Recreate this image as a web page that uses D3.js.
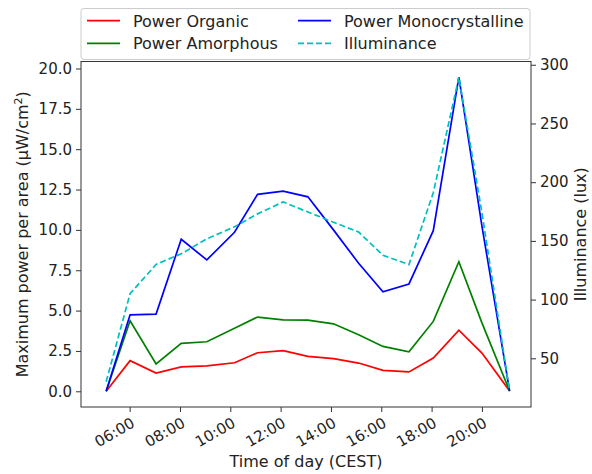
<!DOCTYPE html>
<html>
<head>
<meta charset="utf-8">
<script src="https://cdn.jsdelivr.net/npm/d3@7"></script>
<style>
  body { margin: 0; background: #fff; }
  text { font-family: "DejaVu Sans", sans-serif; fill: #222; }
</style>
</head>
<body>
<svg id="chart" width="592" height="474"></svg>
<script>
// measured values (time of day, CEST)
var times = ['05:04', '06:01', '07:03', '08:03', '09:04', '10:10', '11:05', '12:06', '13:05',
             '14:06', '15:06', '16:04', '17:06', '18:04', '19:05', '20:00', '21:06'];
var powerOrganic = [0, 1.9, 1.13, 1.51, 1.57, 1.77, 2.39, 2.52, 2.16, 2.02, 1.75, 1.3, 1.2, 2.06, 3.79, 2.37, 0.02];
var powerAmorphous = [0, 4.37, 1.69, 2.97, 3.07, 3.9, 4.6, 4.43, 4.41, 4.18, 3.5, 2.78, 2.45, 4.33, 8.03, 4.24, 0.02];
var powerMono = [0, 4.74, 4.78, 9.42, 8.14, 9.85, 12.2, 12.4, 12.05, 10.0, 7.93, 6.16, 6.65, 9.95, 19.46, 10.24, 0.02];
var illuminance = [30, 105, 130, 139, 151.7, 162, 173, 183.2, 174.6, 165.9, 157.5, 137.7, 129.8, 191, 289.4, 174, 21.9];

var leftTicks = [0, 2.5, 5, 7.5, 10, 12.5, 15, 17.5, 20];
var rightTicks = [50, 100, 150, 200, 250, 300];
var timeTicks = ['06:00', '08:00', '10:00', '12:00', '14:00', '16:00', '18:00', '20:00'];
var timeRange = ['04:04', '21:57'];

var series = [
  {name: 'Power Organic', values: powerOrganic, color: '#ff0000'},
  {name: 'Power Amorphous', values: powerAmorphous, color: '#008000'},
  {name: 'Power Monocrystalline', values: powerMono, color: '#0000ff'}
];

var parseTime = d3.timeParse('%H:%M');
var dates = times.map(parseTime);

var margin = {top: 61.5, right: 61, bottom: 67, left: 81};
var width = 592 - margin.left - margin.right;
var height = 474 - margin.top - margin.bottom;

var svg = d3.select('#chart');
var g = svg.append('g').attr('transform', 'translate(' + margin.left + ',' + margin.top + ')');

// matplotlib style 5% padding
function pad(ext) {
  var m = (ext[1] - ext[0]) * 0.05;
  return [ext[0] - m, ext[1] + m];
}

var x = d3.scaleTime().domain(timeRange.map(parseTime)).range([0, width]);
var yLeft = d3.scaleLinear()
  .domain(pad(d3.extent([].concat(powerOrganic, powerAmorphous, powerMono))))
  .range([height, 0]);
var yRight = d3.scaleLinear().domain(pad(d3.extent(illuminance))).range([height, 0]);

// lines
var lineLeft = d3.line()
  .x(function(d, i) { return x(dates[i]); })
  .y(function(d) { return yLeft(d); });
var lineRight = d3.line()
  .x(function(d, i) { return x(dates[i]); })
  .y(function(d) { return yRight(d); });

series.forEach(function(s) {
  g.append('path')
    .datum(s.values)
    .attr('d', lineLeft)
    .attr('fill', 'none')
    .attr('stroke', s.color)
    .attr('stroke-width', 1.7);
});

g.append('path')
  .datum(illuminance)
  .attr('d', lineRight)
  .attr('fill', 'none')
  .attr('stroke', '#00bfbf')
  .attr('stroke-width', 1.7)
  .attr('stroke-dasharray', '6,3');

// axes
var xAxis = g.append('g')
  .attr('transform', 'translate(0,' + height + ')')
  .call(d3.axisBottom(x).tickValues(timeTicks.map(parseTime)).tickFormat(d3.timeFormat('%H:%M')).tickSize(5).tickPadding(4));
xAxis.selectAll('text')
  .attr('font-size', 15)
  .attr('text-anchor', 'end')
  .attr('dy', '0.76em')
  .attr('transform', function() {
    return 'translate(0,' + d3.select(this).attr('y') + ') rotate(-30)';
  })
  .attr('y', 0);

var leftAxis = g.append('g')
  .call(d3.axisLeft(yLeft).tickValues(leftTicks).tickFormat(d3.format('.1f')).tickSize(5).tickPadding(4));
leftAxis.selectAll('text').attr('font-size', 15);

var rightAxis = g.append('g')
  .attr('transform', 'translate(' + width + ',0)')
  .call(d3.axisRight(yRight).tickValues(rightTicks).tickSize(5).tickPadding(4));
rightAxis.selectAll('text').attr('font-size', 15);

g.selectAll('.domain').remove();
g.selectAll('.tick line').attr('stroke', '#333');
g.selectAll('.tick text').attr('fill', '#222').attr('font-family', '"DejaVu Sans", sans-serif');

// frame
g.append('rect')
  .attr('width', width)
  .attr('height', height)
  .attr('fill', 'none')
  .attr('stroke', '#333')
  .attr('stroke-width', 1);

// axis labels
svg.append('text')
  .attr('transform', 'translate(' + (margin.left + width / 2) + ',467)')
  .attr('text-anchor', 'middle')
  .attr('font-size', 16)
  .text('Time of day (CEST)');

var yl = svg.append('text')
  .attr('transform', 'translate(27.5,' + (margin.top + height / 2) + ') rotate(-90)')
  .attr('text-anchor', 'middle')
  .attr('font-size', 16);
yl.append('tspan').text('Maximum power per area (µW/cm');
yl.append('tspan').attr('font-size', 11).attr('dy', -6).text('2');
yl.append('tspan').attr('dy', 6).text(')');

svg.append('text')
  .attr('transform', 'translate(585.5,' + (margin.top + height / 2) + ') rotate(-90)')
  .attr('text-anchor', 'middle')
  .attr('font-size', 16)
  .text('Illuminance (lux)');

// legend
var legendItems = [
  {name: series[0].name, color: series[0].color, dash: null, col: 0, row: 0},
  {name: series[1].name, color: series[1].color, dash: null, col: 0, row: 1},
  {name: series[2].name, color: series[2].color, dash: null, col: 1, row: 0},
  {name: 'Illuminance', color: '#00bfbf', dash: '6,3', col: 1, row: 1}
];
var legend = svg.append('g');
legend.append('rect')
  .attr('x', 81)
  .attr('y', 8.5)
  .attr('width', 449)
  .attr('height', 51)
  .attr('rx', 3)
  .attr('fill', '#fff')
  .attr('stroke', '#ccc');

var colX = [87, 298];
var rowY = [20.7, 43.3];
legendItems.forEach(function(d) {
  var lx = colX[d.col], ly = rowY[d.row];
  legend.append('line')
    .attr('x1', lx).attr('x2', lx + 33)
    .attr('y1', ly).attr('y2', ly)
    .attr('stroke', d.color)
    .attr('stroke-width', 1.7)
    .attr('stroke-dasharray', d.dash);
  legend.append('text')
    .attr('x', lx + 46)
    .attr('y', ly + 6)
    .attr('font-size', 16)
    .text(d.name);
});
</script>
</body>
</html>
